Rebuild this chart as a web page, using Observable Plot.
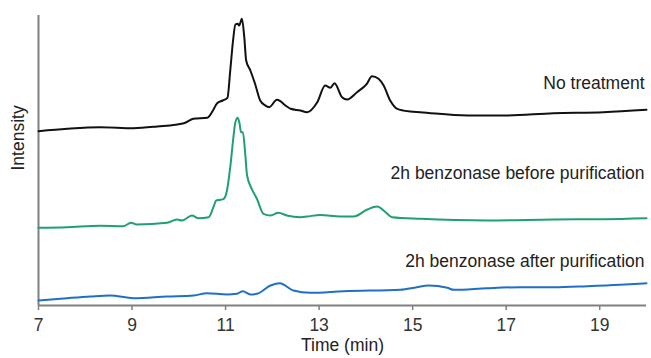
<!DOCTYPE html>
<html><head><meta charset="utf-8">
<script src="https://cdn.jsdelivr.net/npm/d3@7"></script>
<script src="https://cdn.jsdelivr.net/npm/@observablehq/plot@0.6"></script>
<style>html,body{margin:0;padding:0;background:#fff}</style>
</head><body><div id="chart"></div>
<script>
// Retention time (min) and relative intensity (offset traces)
const noTreatmentTime = [7.00,7.61,8.32,9.03,9.54,10.11,10.31,10.61,10.73,10.82,10.94,11.04,11.10,11.16,11.21,11.26,11.29,11.35,11.40,11.44,11.53,11.63,11.74,11.85,11.93,12.10,12.31,12.39,12.60,12.74,12.96,13.13,13.24,13.33,13.49,13.60,13.81,14.02,14.13,14.27,14.38,14.52,14.67,14.95,15.16,16.17,16.94,18.01,19.08,20.00];
const noTreatmentIntensity = [174.3,176.7,178.3,177.3,179,182.3,186.7,187.7,195,202.3,205,207.7,235,265,281,281.7,280,286.7,268.3,245,235,221.7,205,200,198.3,205.7,199,196.7,195,193.3,203.3,220,217.7,222.3,208.3,206,213.3,221.7,229.3,226.7,220,205,196.7,194,193.3,190,190,192.3,193.3,195.7];

const beforeTime = [7.00,7.61,8.32,8.81,8.98,9.10,9.75,9.96,10.07,10.28,10.42,10.64,10.74,10.80,10.89,10.96,11.03,11.10,11.16,11.21,11.26,11.30,11.33,11.37,11.42,11.46,11.56,11.67,11.81,11.96,12.13,12.31,12.60,12.74,13.03,13.45,13.74,14.02,14.24,14.42,14.56,15.17,16.59,18.02,19.09,20.00];
const beforeIntensity = [77.7,78.3,79.7,79.3,82.7,81,82.7,86,85,90,87.3,88.3,98.3,105,105.7,106.7,115,138.3,165,183.3,187.7,181.7,173.3,173.3,151.7,130,116.7,106.7,91.7,90,92.7,90,88.3,89,90.5,89,89,95.7,99,93.3,88.3,86.7,85,86,86.3,87.3];

const afterTime = [7.00,7.61,8.11,8.53,9.03,9.75,10.32,10.60,11.03,11.24,11.37,11.53,11.67,11.96,12.16,12.45,12.81,13.52,14.74,15.09,15.34,15.74,15.88,16.59,17.30,18.02,18.73,19.44,20.00];
const afterIntensity = [5,7.3,9,10,7.3,9,10,12.3,11,11.7,14.3,11,11.7,20,22.3,15,12.7,14.3,15.7,18.3,20,17.7,15.7,17.3,18.3,18.3,19.3,20.7,22.3];

const seriesNames = ["No treatment", "2h benzonase before purification", "2h benzonase after purification"];
const seriesColors = ["#111111", "#1fa06e", "#1f6fc6"];
const labelIntensity = [222, 132, 44];
const labelTime = [20, 20, 20];
const xTicks = [7, 9, 11, 13, 15, 17, 19];

const toRows = (ts, vs) => ts.map((t, i) => ({t, v: vs[i]}));
const traces = [
  toRows(noTreatmentTime, noTreatmentIntensity),
  toRows(beforeTime, beforeIntensity),
  toRows(afterTime, afterIntensity)
];
const labels = seriesNames.map((text, i) => ({text, t: labelTime[i], v: labelIntensity[i]}));

const chart = Plot.plot({
  width: 651,
  height: 358,
  marginTop: 15,
  marginBottom: 53,
  marginLeft: 38,
  marginRight: 5,
  x: {domain: [7, 20]},
  y: {domain: [0, 290], axis: null},
  style: {fontFamily: "'Liberation Sans', Arial, sans-serif", fontSize: "17px", color: "#333", background: "#fff"},
  marks: [
    Plot.axisX({ticks: xTicks, tickSize: 5, tickPadding: 8, tickFormat: d => String(d), label: null, stroke: "#808080", strokeWidth: 1.5, fill: "#333", fontSize: 17.5}),
    Plot.ruleX([7], {stroke: "#808080", strokeWidth: 2}),
    Plot.ruleY([0], {stroke: "#808080", strokeWidth: 2}),
    ...traces.map((rows, i) => Plot.line(rows, {x: "t", y: "v", stroke: seriesColors[i], strokeWidth: 2, curve: "monotone-x"})),
    Plot.text(labels, {x: "t", y: "v", text: "text", textAnchor: "end", dx: -2, fontSize: 17.5, fill: "#222"}),
    Plot.text(["Time (min)"], {frameAnchor: "bottom", dy: 45, fontSize: 17.5, fill: "#222"}),
    Plot.text(["Intensity"], {frameAnchor: "left", dx: -20, dy: 10, rotate: -90, fontSize: 17.5, fill: "#222"})
  ]
});
document.getElementById("chart").appendChild(chart);
</script>
</body></html>
